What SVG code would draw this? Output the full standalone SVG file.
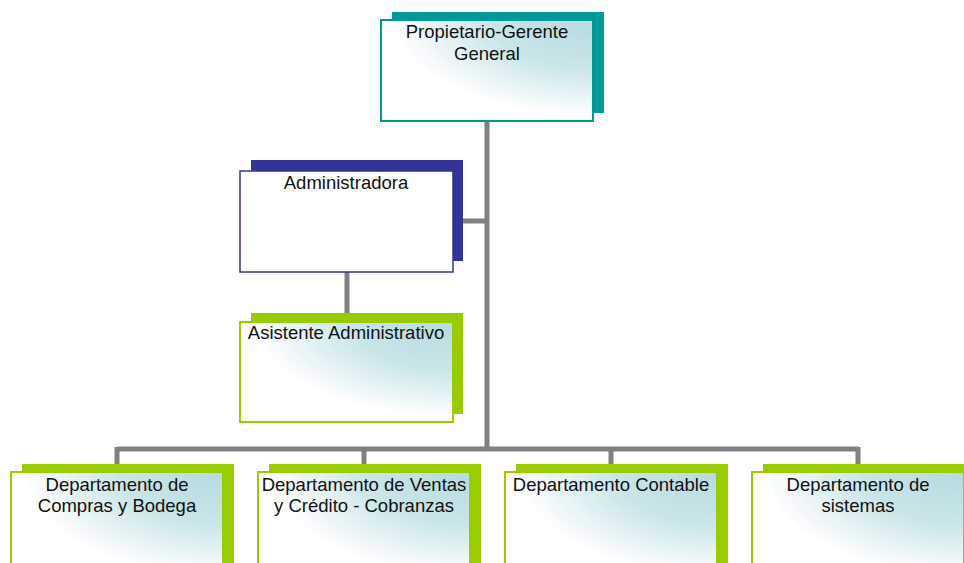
<svg xmlns="http://www.w3.org/2000/svg" width="964" height="563" viewBox="0 0 964 563">
<defs>
<radialGradient id="g" cx="1" cy="0" r="1.05" fx="1" fy="0">
<stop offset="0" stop-color="#b6dbe0"/>
<stop offset="0.45" stop-color="#c9e5e8"/>
<stop offset="0.9" stop-color="#ffffff"/>
</radialGradient>
</defs>
<style>
text{font-family:"Liberation Sans",Arial,sans-serif;font-size:18.5px;fill:#111;text-anchor:middle}
.con{stroke:#808080;stroke-width:5;fill:none}
.shT{fill:#009999}.frT{fill:url(#g);stroke:#009999;stroke-width:2}
.shB{fill:#333399}.frB{fill:#fff;stroke:#333399;stroke-width:1.5}
.shG{fill:#99cc00}.frG{fill:url(#g);stroke:#99cc00;stroke-width:2}
</style>
<g id="connectors">
<path class="con" d="M487 122V449M463 221H487M347 272V313M117 449H858M117 447V464M364 447V464M611 447V464M858 447V464"/>
</g>
<g id="gerente">
<rect class="shT" x="392" y="12" width="212" height="101"/>
<rect class="frT" x="381" y="20" width="212" height="101"/>
<text x="487" y="38">Propietario-Gerente</text>
<text x="487" y="60">General</text>
</g>
<g id="administradora">
<rect class="shB" x="251" y="160" width="212" height="101"/>
<rect class="frB" x="240" y="171" width="213" height="101"/>
<text x="346" y="189">Administradora</text>
</g>
<g id="asistente">
<rect class="shG" x="251" y="313" width="212" height="101"/>
<rect class="frG" x="240" y="322" width="213" height="100"/>
<text x="346" y="339">Asistente Administrativo</text>
</g>
<g id="compras">
<rect class="shG" x="22" y="464" width="212" height="110"/>
<rect class="frG" x="11" y="472" width="212" height="110"/>
<text x="117" y="491">Departamento de</text>
<text x="117" y="512">Compras y Bodega</text>
</g>
<g id="ventas">
<rect class="shG" x="269" y="464" width="212" height="110"/>
<rect class="frG" x="258" y="472" width="212" height="110"/>
<text x="364" y="491">Departamento de Ventas</text>
<text x="364" y="512">y Crédito - Cobranzas</text>
</g>
<g id="contable">
<rect class="shG" x="516" y="464" width="212" height="110"/>
<rect class="frG" x="505" y="472" width="212" height="110"/>
<text x="611" y="491">Departamento Contable</text>
</g>
<g id="sistemas">
<rect class="shG" x="763" y="464" width="212" height="110"/>
<rect class="frG" x="752" y="472" width="212" height="110"/>
<text x="858" y="491">Departamento de</text>
<text x="858" y="512">sistemas</text>
</g>
</svg>
